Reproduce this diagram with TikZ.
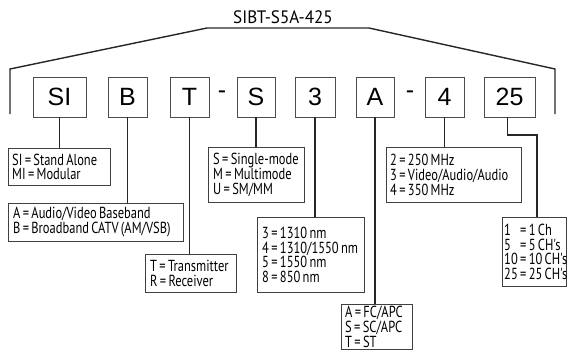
\documentclass[tikz,border=0pt]{standalone}
\usepackage{fontspec}
\setmainfont{Liberation Sans}
\newfontfamily\descfont[FakeStretch=0.78,WordSpace=0.7]{PT Sans}
\newfontfamily\titlefont[FakeStretch=0.95]{PT Sans}
\begin{document}
\begin{tikzpicture}[x=1pt,y=-1pt,
  bracket/.style={line width=1.4pt, black!85},
  codebox/.style={draw=black!70, line width=0.8pt, minimum height=40pt, inner sep=0pt,
     font=\fontsize{25}{25}\selectfont},
  descbox/.style={draw=black!75, line width=0.8pt, anchor=north west, inner sep=0pt},
  desctext/.style={anchor=west, inner sep=0pt, align=left,
     font=\descfont\fontsize{16}{14.8}\selectfont},
  conn/.style={line width=1.1pt, black!85}]
\useasboundingbox (0,0) rectangle (577,351);
% title and bracket
\node[font=\titlefont\fontsize{18}{18}\selectfont] (title) at (283,17) {SIBT-S5A-425};
\coordinate (bl0) at (10,114);
\coordinate (bl1) at (10,69);
\coordinate (bt0) at (207,28);
\coordinate (bt1) at (369,28);
\coordinate (br1) at (555,69);
\coordinate (br0) at (555,114);
\draw[bracket] (bl0) -- (bl1) -- (bt0) -- (bt1) -- (br1) -- (br0);
% code boxes
\node[codebox, minimum width=53pt] (bSI) at (59.5,97) {SI};
\node[codebox, minimum width=39pt] (bB) at (127.5,97) {B};
\node[codebox, minimum width=39pt] (bT) at (189.5,97) {T};
\node[font=\fontsize{25}{25}\selectfont] (h1) at (222,95) {-};
\node[codebox, minimum width=38pt] (bS) at (256,97) {S};
\node[codebox, minimum width=40pt] (b3) at (315,97) {3};
\node[codebox, minimum width=38pt] (bA) at (375,97) {A};
\node[font=\fontsize{25}{25}\selectfont] (h2) at (410,95) {-};
\node[codebox, minimum width=39pt] (b4) at (444.5,97) {4};
\node[codebox, minimum width=51pt] (b25) at (509.5,97) {25};
% description boxes
\node[descbox, minimum width=102pt, minimum height=37pt] (dSI) at (8,148) {};
\node[desctext] (tSI) at ([xshift=4pt]dSI.west) {SI = Stand Alone\\MI = Modular};
\node[descbox, minimum width=175pt, minimum height=38pt] (dB) at (8,203) {};
\node[desctext] (tB) at ([xshift=5pt]dB.west) {A = Audio/Video Baseband\\B = Broadband CATV (AM/VSB)};
\node[descbox, minimum width=91pt, minimum height=38pt] (dT) at (145,254) {};
\node[desctext] (tT) at ([xshift=5pt]dT.west) {T = Transmitter\\R = Receiver};
\node[descbox, minimum width=96pt, minimum height=55pt] (dS) at (208,147) {};
\node[desctext] (tS) at ([xshift=5pt]dS.west) {S = Single-mode\\M = Multimode\\U = SM/MM};
\node[descbox, minimum width=107pt, minimum height=75pt] (d3) at (257,217) {};
\node[desctext] (t3) at ([xshift=5pt]d3.west) {3 = 1310 nm\\4 = 1310/1550 nm\\5 = 1550 nm\\8 = 850 nm};
\node[descbox, minimum width=71pt, minimum height=45pt] (dA) at (341,304) {};
\node[desctext] (tA) at ([xshift=4pt]dA.west) {A = FC/APC\\S = SC/APC\\T = ST};
\node[descbox, minimum width=135pt, minimum height=55pt] (d4) at (386,147) {};
\node[desctext] (t4) at ([xshift=4pt]d4.west) {2 = 250 MHz\\3 = Video/Audio/Audio\\4 = 350 MHz};
\node[descbox, minimum width=64pt, minimum height=69pt] (d25) at (502,217) {};
\node[desctext] (t25) at ([xshift=2pt]d25.west) {1\hphantom{0} = 1 Ch\\5\hphantom{0} = 5 CH's\\10 = 10 CH's\\25 = 25 CH's};
% connectors
\draw[conn] (bSI.south) -- (bSI.south |- dSI.north);
\draw[conn] (bB.south) -- (bB.south |- dB.north);
\draw[conn] (bT.south) -- (bT.south |- dT.north);
\draw[conn] (bS.south) -- (bS.south |- dS.north);
\draw[conn] (b3.south) -- (b3.south |- d3.north);
\draw[conn] (bA.south) -- (bA.south |- dA.north);
\draw[conn] (b4.south) -- (b4.south |- d4.north);
\coordinate (k25) at (537,135);
\draw[conn] ([xshift=-2pt]b25.south) |- (k25) -- (k25 |- d25.north);
\end{tikzpicture}
\end{document}
